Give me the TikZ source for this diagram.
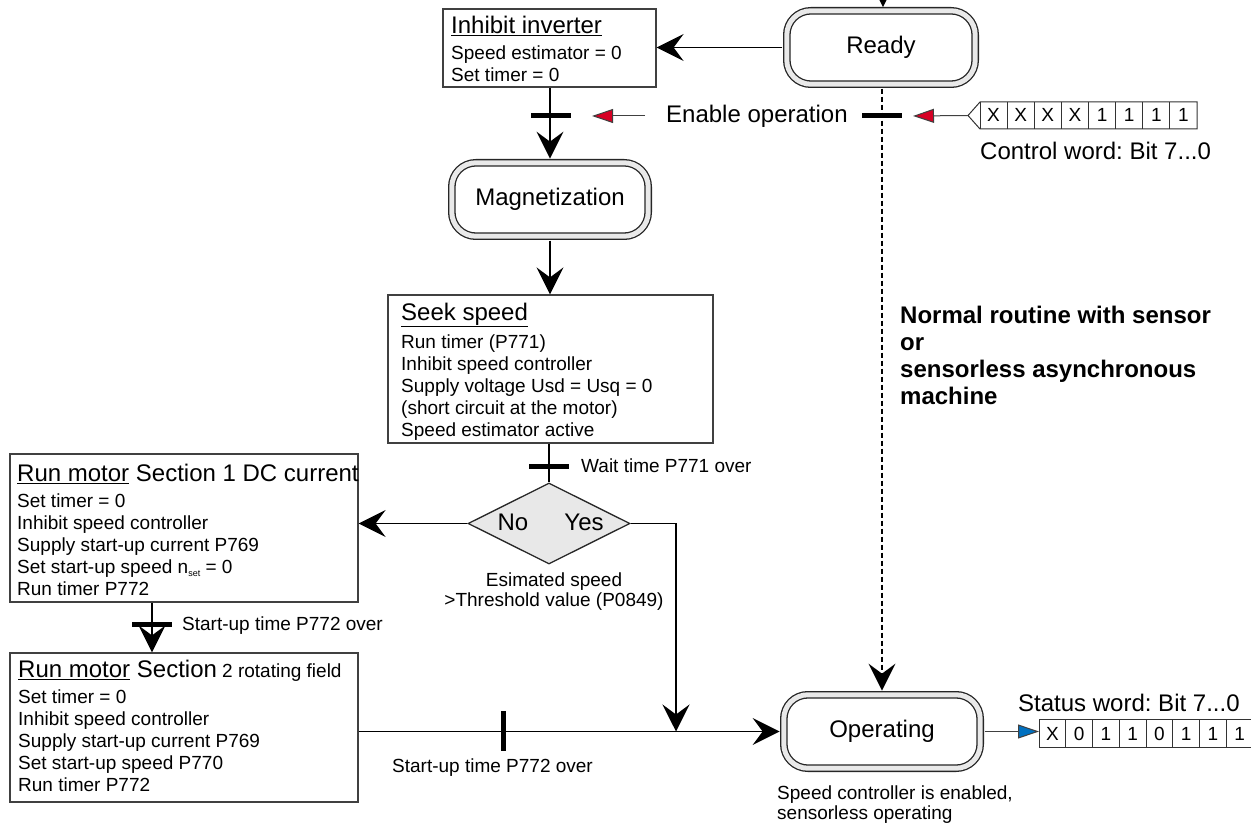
\documentclass[tikz,border=0pt]{standalone}
\usepackage{fontspec}
\setmainfont{Liberation Sans}
\usetikzlibrary{arrows.meta,shapes.geometric}
\definecolor{sigred}{RGB}{214,0,36}
\definecolor{sigblue}{RGB}{0,112,192}
\definecolor{ringgray}{RGB}{233,233,233}
\definecolor{decfill}{RGB}{232,232,232}
\newcommand\dgbody{\fontsize{19}{22}\selectfont}
\newcommand\dgtitle{\fontsize{24}{26}\selectfont}
\frenchspacing
\begin{document}
\begin{tikzpicture}[x=1pt,y=-1pt,
  conn/.style={line width=1.8pt},
  arr/.style={conn,-{Stealth[length=27pt,width=27pt,inset=10pt]}},
  stbox/.style={draw=black!85,line width=1.3pt,double=ringgray,double distance=5pt,
    fill=white,rounded corners=24pt,inner sep=0pt,minimum height=73.4pt,font=\dgtitle},
  txtbox/.style={draw=black!75,line width=1.2pt,fill=white,inner sep=0pt},
  boxtext/.style={anchor=north west,align=left,inner sep=0pt,font=\dgbody},
  hbar/.style={fill=black,minimum width=40pt,minimum height=5pt,inner sep=0pt},
  vbar/.style={fill=black,minimum width=5pt,minimum height=40pt,inner sep=0pt},
  lbl/.style={inner sep=0pt,font=\dgbody},
  biglbl/.style={inner sep=0pt,font=\dgtitle},
  cell/.style={draw=black!80,line width=1pt},
  redarr/.style={draw=black!75,line width=1pt,-{Triangle[length=21pt,width=14pt,fill=sigred]}},
  bluearr/.style={draw=black!75,line width=1pt,-{Triangle[length=21pt,width=14pt,fill=sigblue]}},
]
\useasboundingbox (0,0) rectangle (1251,826);

% states
\node[stbox,minimum width=188.4pt] (ready) at (881,47.5) {Ready};
\node[stbox,minimum width=196.4pt] (mag) at (550,199.5) {Magnetization};
\node[stbox,minimum width=196.4pt] (op) at (882,731.5) {Operating};

% action boxes
\node[txtbox,minimum width=213pt,minimum height=78pt] (inh) at (549.5,48) {};
\node[boxtext] (inh-t) at (451,15.8) {{\dgtitle\underline{Inhibit inverter}}\\[4pt]
  Speed estimator = 0\\ Set timer = 0};

\node[txtbox,minimum width=325pt,minimum height=148pt] (seek) at (550.5,369) {};
\node[boxtext] (seek-t) at (401,302.6) {{\dgtitle\underline{Seek speed}}\\[6pt]
  Run timer (P771)\\ Inhibit speed controller\\ Supply voltage Usd = Usq = 0\\
  (short circuit at the motor)\\ Speed estimator active};

\node[txtbox,minimum width=348pt,minimum height=148pt] (rm1) at (184,528) {};
\node[boxtext] (rm1-t) at (17,463.8) {{\dgtitle\underline{Run motor} Section 1 DC current}\\[4pt]
  Set timer = 0\\ Inhibit speed controller\\ Supply start-up current P769\\
  Set start-up speed n\raisebox{-3pt}{\fontsize{9}{9}\selectfont set} = 0\\ Run timer P772};

\node[txtbox,minimum width=348pt,minimum height=149pt] (rm2) at (184,727.5) {};
\node[boxtext] (rm2-t) at (18,659.5) {{\dgtitle\underline{Run motor} Section} 2 rotating field\\[4pt]
  Set timer = 0\\ Inhibit speed controller\\ Supply start-up current P769\\
  Set start-up speed P770\\ Run timer P772};

% decision
\node[diamond,aspect=2,draw=black!85,line width=1.3pt,fill=decfill,inner sep=0pt,
  minimum width=162pt,minimum height=81pt] (dia) at (549,523.5) {};
\node[biglbl,anchor=base] (no) at (513,530) {No};
\node[biglbl,anchor=base] (yes) at (584,530) {Yes};
\node[lbl,anchor=north,align=center,font=\fontsize{19}{20.5}\selectfont] (est) at (554,572.4)
  {Esimated speed\\ >Threshold value (P0849)};

% connectors
\coordinate (topin) at (883,-30);
\draw[arr,shorten >=3pt] (topin) -- (topin |- ready.north);
\draw[arr,shorten <=3.8pt] (ready.west) -- (ready.west -| inh.east);
\draw[arr,shorten >=3.5pt] (inh.south -| mag.north) -- (mag.north);
\draw[arr,shorten <=3.8pt] (mag.south) -- (seek.north -| mag.south);
\draw[conn] (seek.south -| dia.north) -- (dia.north);
\draw[arr] (dia.west) -- (dia.west -| rm1.east);
\coordinate (join) at (676,731.5);
\draw[arr] (dia.east) -| (join);
\draw[arr] ([xshift=-32pt]rm1.south) -- ([xshift=-32pt]rm2.north);
\draw[arr,shorten >=3.5pt] (rm2.east |- op.west) -- (op.west);
\draw[arr,line width=2pt,dash pattern=on 5pt off 3pt,shorten <=3.8pt,shorten >=3.5pt]
  (op.north |- ready.south) -- (op.north);

% transition bars
\node[hbar] (b1) at (551,116) {};
\node[hbar] (b2) at (882,116) {};
\node[hbar] (b3) at (549,466) {};
\node[hbar] (b4) at (152,624) {};
\node[vbar] (b5) at (503,731) {};

% transition labels
\node[biglbl,anchor=base west] (en) at (666,123) {Enable operation};
\node[lbl,anchor=base west] (wt) at (581,472.5) {Wait time P771 over};
\node[lbl,anchor=base west] (su1) at (182,630) {Start-up time P772 over};
\node[lbl,anchor=base west] (su2) at (392,772) {Start-up time P772 over};
\node[lbl,anchor=north west,align=left,font=\fontsize{19}{20.3}\selectfont] (opnote) at (777,785.4)
  {Speed controller is enabled,\\ sensorless operating};
\node[anchor=north west,align=left,inner sep=0pt,font=\fontsize{24}{27}\selectfont\bfseries] (route) at (900,305.8)
  {Normal routine with sensor\\ or\\ sensorless asynchronous\\ machine};

% control word
\coordinate (cwtip) at (968,115.5);
\draw[cell,fill=white] (cwtip) -- (980,102) -- (1197,102) -- (1197,129) -- (980,129) -- cycle;
\foreach \i/\t in {0/X,1/X,2/X,3/X,4/1,5/1,6/1,7/1} {
  \draw[cell] ({980+27.125*\i},102) -- ({980+27.125*\i},129);
  \node[lbl,anchor=base] (cw\i) at ({980+27.125*\i+13.56},121.5) {\t};
}
\node[biglbl,anchor=base west] (cwl) at (980,159.5) {Control word: Bit 7...0};
\coordinate (r1s) at (645,116);
\coordinate (r1e) at (592,116);
\coordinate (r2e) at (913,116);
\draw[redarr] (r1s) -- (r1e);
\draw[redarr] (cwtip) -- (r2e);

% status word
\node[cell,fill=white,minimum width=214pt,minimum height=28pt,inner sep=0pt,anchor=west] (sw) at (1039,733) {};
\foreach \i/\t in {0/X,1/0,2/1,3/1,4/0,5/1,6/1,7/1} {
  \draw[cell] ({1039+26.75*\i},719) -- ({1039+26.75*\i},747);
  \node[lbl,anchor=base] (sw\i) at ({1039+26.75*\i+13.4},740) {\t};
}
\node[biglbl,anchor=base west] (swl) at (1018,711) {Status word: Bit 7...0};
\draw[bluearr,shorten <=3.8pt] (op.east) -- (op.east -| sw.west);
\end{tikzpicture}
\end{document}
